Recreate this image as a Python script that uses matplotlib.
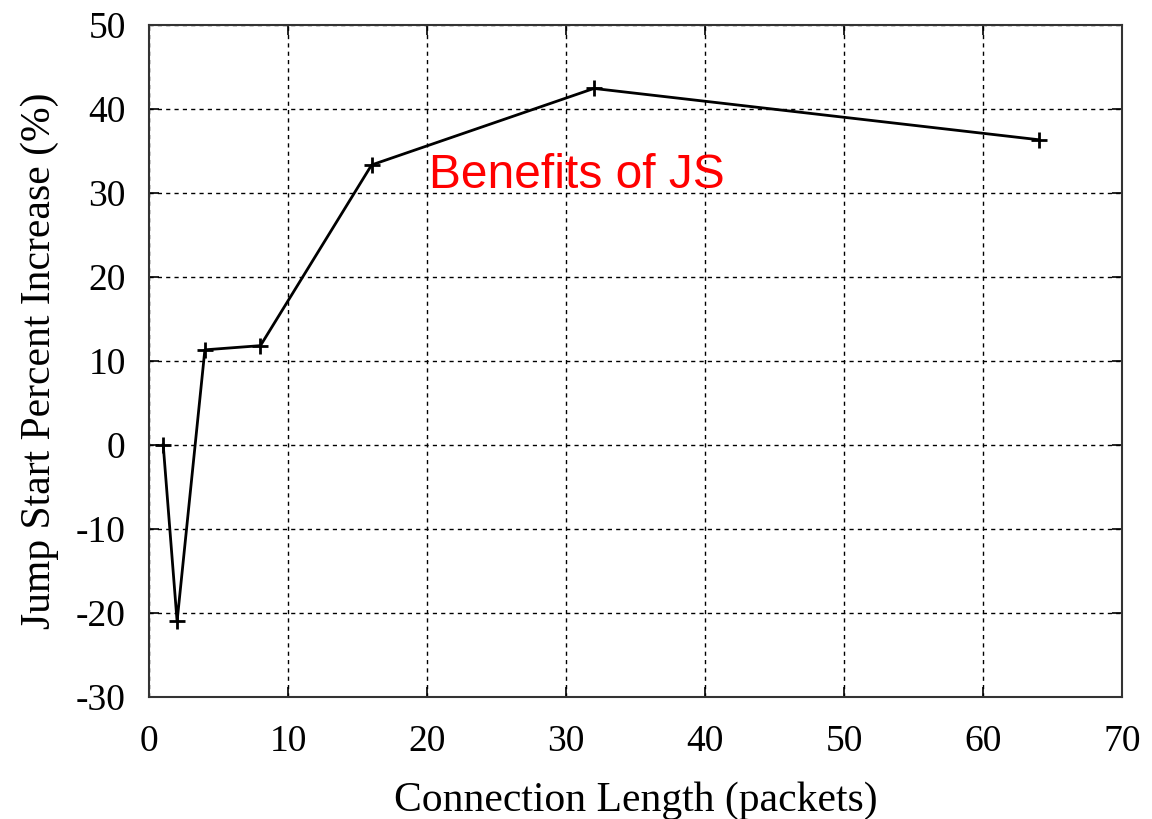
import matplotlib
matplotlib.use("Agg")
import matplotlib.pyplot as plt

# connection length (packets) vs jump start percent increase
conn_len = [1, 2, 4, 8, 16, 32, 64]
pct_increase = [0.0, -21.0, 11.3, 11.8, 33.3, 42.4, 36.3]

x_ticks = [0, 10, 20, 30, 40, 50, 60, 70]
y_ticks = [-30, -20, -10, 0, 10, 20, 30, 40, 50]

plt.rcParams['font.family'] = ['Liberation Serif', 'DejaVu Serif']
plt.rcParams['axes.unicode_minus'] = False

fig = plt.figure(figsize=(11.52, 8.19), dpi=100)
ax = fig.add_axes([0.1296, 0.149, 0.8443, 0.821])

ax.plot(conn_len, pct_increase, color='black', linewidth=2,
        marker='+', markersize=11, markeredgewidth=2)

ax.set_xlim(0, 70)
ax.set_ylim(-30, 50)
ax.set_xticks(x_ticks)
ax.set_yticks(y_ticks)
ax.grid(True, color='black', linestyle=(0, (3, 3)), linewidth=1)
ax.tick_params(direction='in', length=7, width=1.2, labelsize=27,
               top=True, right=True)
ax.tick_params(axis='x', pad=20)
ax.tick_params(axis='y', pad=17)
for s in ax.spines.values():
    s.set_linewidth(1.5)
    s.set_color('#333333')

ax.set_xlabel('Connection Length (packets)', fontsize=30, labelpad=16)
ax.set_ylabel('Jump Start Percent Increase (%)', fontsize=30, labelpad=12)

ax.text(20.1, 30.6, 'Benefits of JS', color='red', fontsize=34.5,
        family='Liberation Sans', va='baseline')

fig.savefig('out.png', dpi=100)
